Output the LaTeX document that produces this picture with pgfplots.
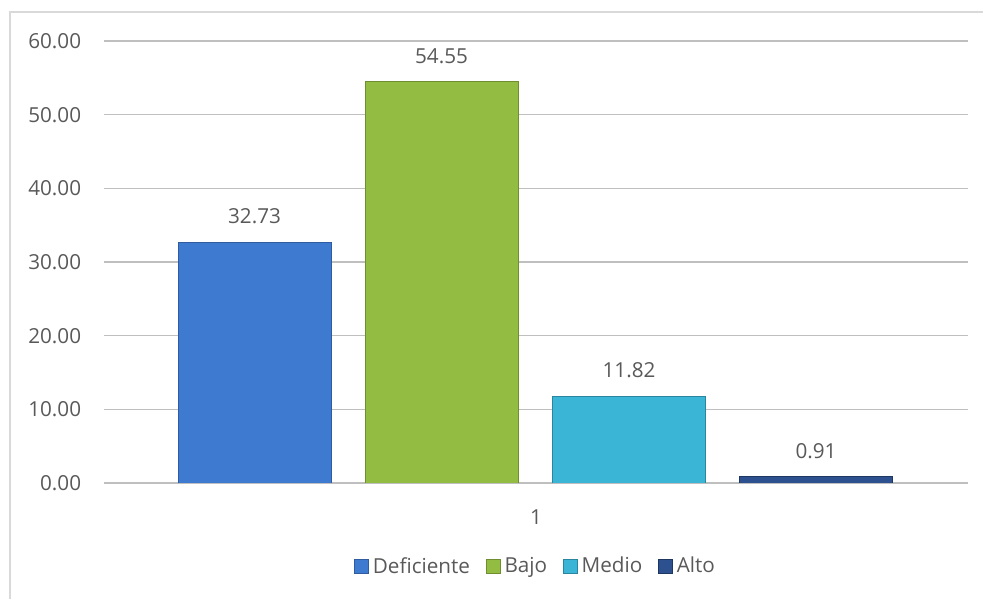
\documentclass[border=0pt]{standalone}
\usepackage{fontspec}
\setmainfont{Open Sans}
\usepackage{pgfplots}
\pgfplotsset{compat=1.18}
\definecolor{txt}{HTML}{595959}
\definecolor{grid}{HTML}{D9D9D9}
\definecolor{cDef}{HTML}{3D7AD0}
\definecolor{cDefD}{HTML}{2E5C9E}
\definecolor{cBajo}{HTML}{92BC42}
\definecolor{cBajoD}{HTML}{6E8E30}
\definecolor{cMed}{HTML}{3AB5D6}
\definecolor{cMedD}{HTML}{2A86A0}
\definecolor{cAlto}{HTML}{2D518E}
\definecolor{cAltoD}{HTML}{1E3762}
\begin{document}
\begin{tikzpicture}
\useasboundingbox (-78pt,-87pt) rectangle (659.25pt,362.25pt);
\draw[grid, line width=1.2pt] (-70.5pt,-120pt) -- (-70.5pt,353.25pt) -- (700pt,353.25pt);
\begin{axis}[
  at={(0,0)}, anchor=south west,
  scale only axis, width=648pt, height=331.5pt,
  xmin=104, xmax=968, ymin=0, ymax=60,
  ytick={0,10,...,60},
  xtick={536}, xticklabels={1},
  axis line style={draw=none},
  tick style={draw=none},
  major tick length=0pt,
  xmajorgrids=false,
  ymajorgrids=true, grid style={grid, line width=1pt},
  font=\fontsize{15.5}{18}\selectfont,
  tick label style={text=txt},
  yticklabel style={inner sep=0pt, xshift=-17pt},
  xticklabel style={anchor=center, inner sep=0pt, yshift=-25.5pt},
  /pgf/number format/assume math mode=true,
  yticklabel={\pgfmathprintnumber[fixed,fixed zerofill,precision=2]{\tick}},
  ybar, bar width=153, bar shift=0pt,
  nodes near coords,
  nodes near coords style={text=txt, anchor=center, yshift=19pt,
     /pgf/number format/.cd, fixed, fixed zerofill, precision=2, assume math mode=true},
  legend columns=4,
  legend style={at={(rel axis cs:0.5,-0.188)}, anchor=center, draw=none, fill=none,
     text=txt, font=\fontsize{15.5}{18}\selectfont,
     nodes={inner xsep=2pt},
     /tikz/every even column/.append style={column sep=10pt},
     /tikz/every odd column/.append style={column sep=1pt}},
  legend image code/.code={\draw[#1] (0pt,-5.25pt) rectangle (10.5pt,5.25pt);},
]
\addplot[fill=cDef, draw=cDefD] coordinates {(254.5,32.73)};
\addlegendentry{Deficiente}
\addplot[fill=cBajo, draw=cBajoD] coordinates {(441.5,54.55)};
\addlegendentry{Bajo}
\addplot[fill=cMed, draw=cMedD] coordinates {(629,11.82)};
\addlegendentry{Medio}
\addplot[fill=cAlto, draw=cAltoD] coordinates {(816,0.91)};
\addlegendentry{Alto}
\end{axis}
\end{tikzpicture}
\end{document}
